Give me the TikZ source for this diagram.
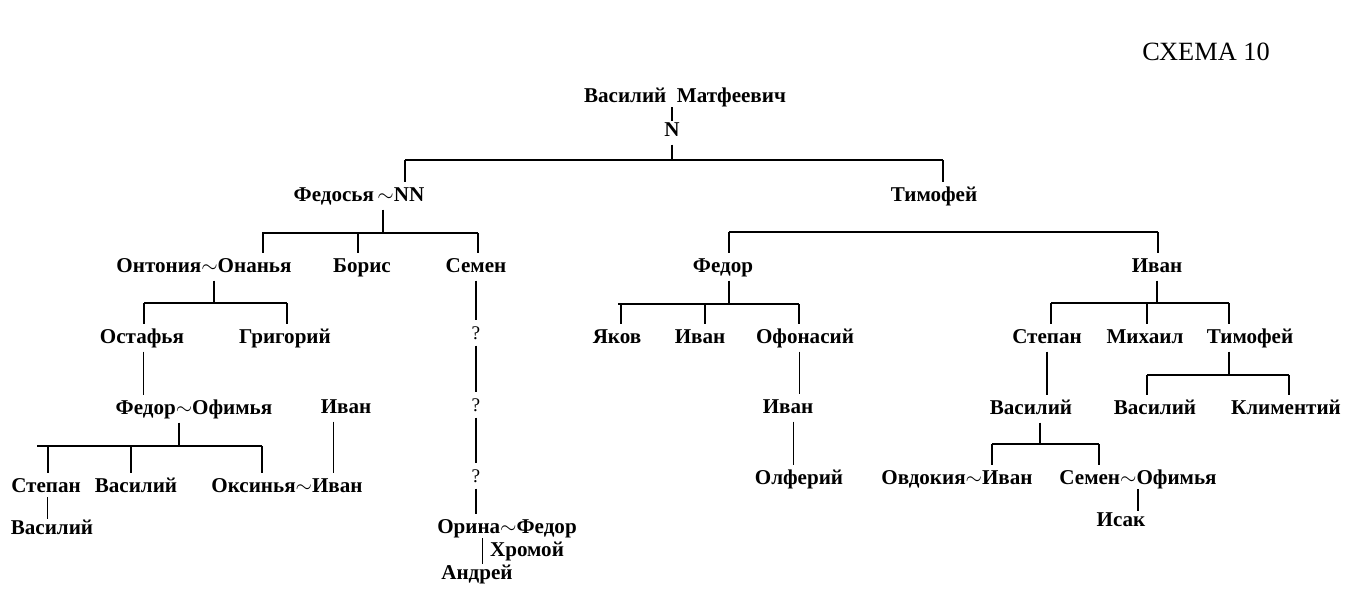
\documentclass[tikz,border=0pt]{standalone}
\usepackage{fontspec}
\setmainfont{Liberation Serif}
\begin{document}
\begin{tikzpicture}[x=0.02cm, y=-0.02cm, line width=0.8pt,
  person/.style={font=\bfseries\fontsize{12}{14}\selectfont, inner sep=3pt, text height=1.6ex, text depth=.3ex},
  query/.style={font=\fontsize{11}{13}\selectfont, inner sep=3pt}]
  \useasboundingbox (0,0) rectangle (1357,590);
  \node[font=\fontsize{15}{17}\selectfont] (title) at (1206,52) {СХЕМА 10};

  % people
  \node[person] (vm) at (685,97) {Василий\ \ Матфеевич};
  \node[person] (enn) at (672,131) {N};
  \node[person] (fedosya) at (359,196) {Федосья\,$\sim$NN};
  \node[person] (timofey) at (934,196) {Тимофей};
  \node[person] (ontonia) at (204,267) {Онтония$\sim$Онанья};
  \node[person] (boris) at (362,267) {Борис};
  \node[person] (semen) at (476,267) {Семен};
  \node[person] (ostafya) at (142,338) {Остафья};
  \node[person] (grigoriy) at (285,338) {Григорий};
  \node[person] (fedofim) at (194,409) {Федор$\sim$Офимья};
  \node[person] (ivanA) at (346,408) {Иван};
  \node[person] (stepanA) at (46,487) {Степан};
  \node[person] (vasiliyA) at (136,487) {Василий};
  \node[person] (oksinya) at (287,487) {Оксинья$\sim$Иван};
  \node[person] (vasiliyB) at (52,529) {Василий};
  \node[query] (qA) at (476,333) {?};
  \node[query] (qB) at (476,405) {?};
  \node[query] (qC) at (476,476) {?};
  \node[person] (orina) at (507,528) {Орина$\sim$Федор};
  \node[person] (khromoy) at (527,551) {Хромой};
  \node[person] (andrey) at (477,574) {Андрей};
  \node[person] (fedor) at (723,267) {Федор};
  \node[person] (ivanB) at (1157,267) {Иван};
  \node[person] (yakov) at (617,338) {Яков};
  \node[person] (ivanC) at (700,338) {Иван};
  \node[person] (ofonasiy) at (805,338) {Офонасий};
  \node[person] (ivanD) at (788,408) {Иван};
  \node[person] (olferiy) at (799,479) {Олферий};
  \node[person] (stepanB) at (1047,338) {Степан};
  \node[person] (mikhail) at (1145,338) {Михаил};
  \node[person] (timofeyB) at (1250,338) {Тимофей};
  \node[person] (vasiliyC) at (1031,409) {Василий};
  \node[person] (vasiliyD) at (1155,409) {Василий};
  \node[person] (klimentiy) at (1286,409) {Климентий};
  \node[person] (ovdokiya) at (957,479) {Овдокия$\sim$Иван};
  \node[person] (semenB) at (1138,479) {Семен$\sim$Офимья};
  \node[person] (isak) at (1121,521) {Исак};

  % bars: name/y/from/to/stem x/parent
  \foreach \b/\y/\l/\r/\s/\p in {b1/160/405/943/672/enn, b2/233/262/478/383/fedosya,
      b3/303/144/287/214/ontonia, b4/446/37/262/179/fedofim, b6/304/618/799/729/fedor,
      b7/303/1051/1229/1157/ivanB, b8/375/1147/1289/1229/timofeyB, b9/444/992/1099/1040/vasiliyC} {
    \coordinate (\b-l) at (\l,\y);
    \coordinate (\b-r) at (\r,\y);
    \coordinate (\b-s) at (\s,\y);
    \draw (\b-l) -- (\b-r);
    \draw (\b-s |- \p.south) -- (\b-s);
  }
  \coordinate (b5-l) at (729,232);
  \coordinate (b5-r) at (1158,232);
  \draw (b5-l) -- (b5-r);

  % ticks down to the children
  \foreach \x/\y/\c in {405/160/fedosya, 943/160/timofey, 263/233/ontonia, 358/233/boris,
      478/233/semen, 144/303/ostafya, 287/303/grigoriy, 48/446/stepanA, 131/446/vasiliyA,
      262/446/oksinya, 729/232/fedor, 1158/232/ivanB, 621/304/yakov, 705/304/ivanC,
      799/304/ofonasiy, 1051/303/stepanB, 1147/303/mikhail, 1229/303/timofeyB,
      1147/375/vasiliyD, 1289/375/klimentiy, 992/444/ovdokiya, 1099/444/semenB} {
    \coordinate (t-\c) at (\x,\y);
    \draw (t-\c) -- (t-\c |- \c.north);
  }

  % single lines
  \draw ([yshift=2pt]enn |- vm.south) -- ([yshift=-2pt]enn.north);
  \draw ([xshift=1pt]ostafya.south) -- ([xshift=1pt]ostafya.south |- fedofim.north);
  \draw ([xshift=-7pt]ivanA.south) -- ([xshift=-7pt]ivanA.south |- oksinya.north);
  \draw ([xshift=1pt,yshift=2pt]stepanA.south) -- ([xshift=1pt,yshift=-2pt]stepanA.south |- vasiliyB.north);
  \draw (semen) -- (qA);
  \draw (qA) -- (qB);
  \draw (qB) -- (qC);
  \draw (qC.south) -- (qC.south |- orina.north);
  \draw ([xshift=-14pt,yshift=2pt]orina.south) -- ([xshift=-14pt,yshift=-2pt]orina.south |- andrey.north);
  \draw ([xshift=-3pt]ofonasiy.south) -- ([xshift=-3pt]ofonasiy.south |- ivanD.north);
  \draw ([xshift=3pt]ivanD.south) -- ([xshift=3pt]ivanD.south |- olferiy.north);
  \draw (stepanB) -- (stepanB |- vasiliyC.north);
  \draw ([yshift=-2pt]isak.north -| semenB.south) -- ([yshift=2pt]semenB.south);
\end{tikzpicture}
\end{document}
